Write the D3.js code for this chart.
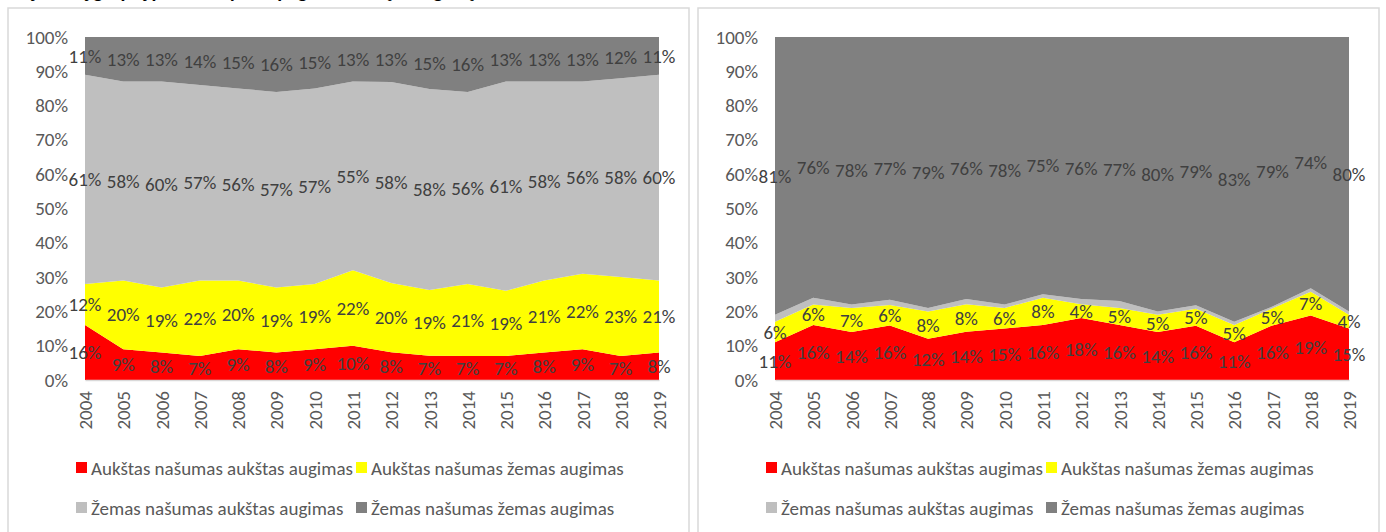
<!DOCTYPE html>
<html>
<head>
<meta charset="utf-8">
<script src="https://cdn.jsdelivr.net/npm/d3@7"></script>
<style>
  body { margin: 0; background: #fff; }
  svg text { font-family: Calibri, Carlito, Lato, sans-serif; }
</style>
</head>
<body>
<div id="chart"></div>
<script>
const years = ["2004","2005","2006","2007","2008","2009","2010","2011","2012","2013","2014","2015","2016","2017","2018","2019"]
const seriesNames = [
  "Aukštas našumas aukštas augimas",
  "Aukštas našumas žemas augimas",
  "Žemas našumas aukštas augimas",
  "Žemas našumas žemas augimas"
]
const colors = ["#ff0000", "#ffff00", "#bfbfbf", "#808080"]

// left chart
const leftHighHigh = [16, 9, 8, 7, 9, 8, 9, 10, 8, 7, 7, 7, 8, 9, 7, 8]
const leftHighLow  = [12, 20, 19, 22, 20, 19, 19, 22, 20, 19, 21, 19, 21, 22, 23, 21]
const leftLowHigh  = [61, 58, 60, 57, 56, 57, 57, 55, 58, 58, 56, 61, 58, 56, 58, 60]
const leftLowLow   = [11, 13, 13, 14, 15, 16, 15, 13, 13, 15, 16, 13, 13, 13, 12, 11]

// right chart
const rightHighHigh = [11, 16, 14, 16, 12, 14, 15, 16, 18, 16, 14, 16, 11, 16, 19, 15]
const rightHighLow  = [6, 6, 7, 6, 8, 8, 6, 8, 4, 5, 5, 5, 5, 5, 7, 4]
const rightLowHigh  = [2, 2, 1, 1.5, 1, 1.5, 1, 1, 1.5, 2, 1, 1, 1, 0.5, 1, 1]
const rightLowLow   = [81, 76, 78, 77, 79, 76, 78, 75, 76, 77, 80, 79, 83, 79, 74, 80]

const yTicks = d3.range(0, 11).map(d => d / 10)
const fontSize = "19px"

const svg = d3.select("#chart").append("svg")
  .attr("width", 1386)
  .attr("height", 532)

// title, cropped by the top edge in the reference
svg.append("text")
  .attr("x", 30)
  .attr("y", -2)
  .style("font-size", "20px")
  .style("font-weight", "bold")
  .attr("fill", "#000")
  .text("Įmonių grupių pasiskirstymas pagal našumą ir augimą")

function drawPanel(px, series, labelSeries) {
  const g = svg.append("g")

  g.append("rect")
    .attr("x", px)
    .attr("y", 8)
    .attr("width", 681)
    .attr("height", 560)
    .attr("fill", "#fff")
    .attr("stroke", "#d9d9d9")
    .attr("stroke-width", 1.5)

  const left = px + 77, top = 37, w = 574, h = 343

  const rows = years.map((yr, i) => {
    const r = { year: yr }
    series.forEach((s, k) => r[k] = s[i])
    return r
  })

  const stack = d3.stack()
    .keys(d3.range(series.length))
    .offset(d3.stackOffsetExpand)(rows)

  const x = d3.scalePoint().domain(years).range([left, left + w])
  const y = d3.scaleLinear().domain([0, 1]).range([top + h, top])

  const area = d3.area()
    .x(d => x(d.data.year))
    .y0(d => y(d[0]))
    .y1(d => y(d[1]))

  g.append("g")
    .selectAll("path")
    .data(stack)
    .join("path")
      .attr("fill", (d, i) => colors[i])
      .attr("d", area)

  // axes
  const yAxis = g.append("g")
    .attr("transform", `translate(${left},0)`)
    .call(d3.axisLeft(y).tickValues(yTicks).tickFormat(d3.format(".0%")).tickSize(0).tickPadding(17))
  yAxis.select(".domain").remove()
  yAxis.selectAll("text")
    .attr("fill", "#595959")
    .style("font-size", fontSize)

  const xAxis = g.append("g")
    .attr("transform", `translate(0,${top + h})`)
    .call(d3.axisBottom(x).tickSize(0))
  xAxis.select(".domain")
    .attr("stroke", "#d9d9d9")
    .attr("stroke-width", 1.5)
  xAxis.selectAll("text")
    .attr("fill", "#595959")
    .style("font-size", fontSize)
    .attr("transform", "rotate(-90)")
    .attr("text-anchor", "end")
    .attr("x", -11)
    .attr("y", 0)
    .attr("dy", "0.35em")

  // data labels in the middle of each band
  stack.forEach((layer, k) => {
    if (!labelSeries.includes(k)) return
    g.append("g")
      .selectAll("text")
      .data(layer)
      .join("text")
        .attr("x", d => x(d.data.year))
        .attr("y", d => y((d[0] + d[1]) / 2))
        .attr("dy", "0.35em")
        .attr("text-anchor", "middle")
        .attr("fill", "#404040")
        .style("font-size", fontSize)
        .text((d, i) => series[k][i] + "%")
  })

  // legend
  const legend = g.append("g")
    .selectAll("g")
    .data(seriesNames)
    .join("g")
      .attr("transform", (d, i) => `translate(${left - 9 + (i % 2) * 280},${468 + Math.floor(i / 2) * 40})`)
  legend.append("rect")
    .attr("x", 0)
    .attr("y", -6)
    .attr("width", 11)
    .attr("height", 11)
    .attr("fill", (d, i) => colors[i])
  legend.append("text")
    .attr("x", 15)
    .attr("y", 0)
    .attr("dy", "0.35em")
    .attr("fill", "#595959")
    .style("font-size", fontSize)
    .text(d => d)
}

drawPanel(8, [leftHighHigh, leftHighLow, leftLowHigh, leftLowLow], [0, 1, 2, 3])
drawPanel(698, [rightHighHigh, rightHighLow, rightLowHigh, rightLowLow], [0, 1, 3])
</script>
</body>
</html>
